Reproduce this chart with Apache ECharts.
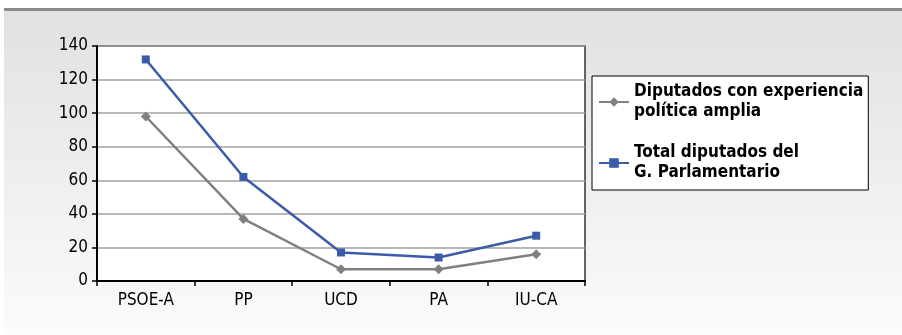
<!DOCTYPE html>
<html>
<head>
<meta charset="utf-8">
<script src="https://cdn.jsdelivr.net/npm/echarts@6/dist/echarts.min.js"></script>
<style>
  html, body { margin: 0; padding: 0; background: #fff; }
  #chart { width: 902px; height: 335px; }
</style>
</head>
<body>
<div id="chart"></div>
<script>
// Parliamentary groups
const categories = ['PSOE-A', 'PP', 'UCD', 'PA', 'IU-CA'];
// Deputies with broad political experience
const experienced = [98, 37, 7, 7, 16];
// Total deputies of each parliamentary group
const totalDeputies = [132, 62, 17, 14, 27];
const seriesNames = [
  'Diputados con experiencia\npolítica amplia',
  'Total diputados del\nG. Parlamentario'
];
const yTicks = { min: 0, max: 140, interval: 20 };

const chart = echarts.init(document.getElementById('chart'), null, { renderer: 'canvas' });

const labelFont = 'DejaVu Sans Condensed';

chart.setOption({
  backgroundColor: '#ffffff',
  animation: false,
  graphic: [
    {
      type: 'rect',
      z: -10,
      shape: { x: 4, y: 10, width: 898, height: 325 },
      style: {
        fill: new echarts.graphic.LinearGradient(0, 0, 0, 1, [
          { offset: 0, color: '#e1e1e1' },
          { offset: 1, color: '#fbfbfb' }
        ])
      }
    },
    {
      type: 'rect',
      z: -9,
      shape: { x: 4, y: 8, width: 898, height: 3 },
      style: { fill: '#8a8a8a' }
    }
  ],
  grid: {
    left: 97, right: 317, top: 46, bottom: 54,
    show: true,
    backgroundColor: '#ffffff',
    borderColor: '#333333',
    borderWidth: 1.5
  },
  legend: {
    orient: 'vertical',
    left: 592,
    top: 76,
    padding: [6, 5, 7, 6],
    itemGap: 21,
    itemWidth: 30,
    itemHeight: 12,
    backgroundColor: '#ffffff',
    borderColor: '#000000',
    borderWidth: 1,
    borderRadius: 0,
    textStyle: {
      fontFamily: labelFont,
      fontWeight: 'bold',
      fontSize: 17,
      lineHeight: 20,
      color: '#000000'
    },
    data: seriesNames
  },
  xAxis: {
    type: 'category',
    data: categories,
    boundaryGap: true,
    axisLine: { lineStyle: { color: '#000000', width: 2 } },
    axisTick: { show: true, alignWithLabel: false, length: 5, lineStyle: { color: '#000000', width: 1.5 } },
    axisLabel: { fontFamily: labelFont, fontSize: 17, color: '#000000', margin: 11 },
    splitLine: { show: false }
  },
  yAxis: {
    type: 'value',
    min: yTicks.min,
    max: yTicks.max,
    interval: yTicks.interval,
    axisLine: { show: true, lineStyle: { color: '#000000', width: 2 } },
    axisTick: { show: true, length: 5, lineStyle: { color: '#000000', width: 1.5 } },
    axisLabel: { fontFamily: labelFont, fontSize: 17, color: '#000000', margin: 9 },
    splitLine: { show: true, lineStyle: { color: '#a0a0a0', width: 1.5 } }
  },
  series: [
    {
      name: seriesNames[0],
      type: 'line',
      data: experienced,
      symbol: 'diamond',
      symbolSize: 10,
      color: '#808080',
      lineStyle: { color: '#808080', width: 2.5 },
      itemStyle: { color: '#808080' },
      z: 3
    },
    {
      name: seriesNames[1],
      type: 'line',
      data: totalDeputies,
      symbol: 'rect',
      symbolSize: 8,
      color: '#3a5ca8',
      lineStyle: { color: '#3a5ca8', width: 2.5 },
      itemStyle: { color: '#3a5ca8' },
      z: 4
    }
  ]
});
</script>
</body>
</html>
